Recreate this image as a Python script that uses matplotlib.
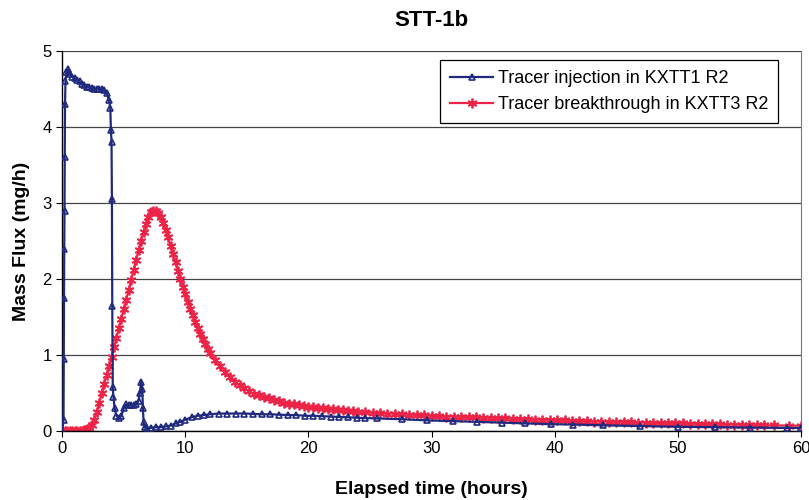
#! /usr/bin/env python3

import matplotlib.pyplot as plt
import matplotlib as mpl

# breakthrough curve in KXTT3 R2 (hours, mg/h)
red_t = [0.0, 0.2, 0.4, 0.6, 0.8, 1.0, 1.2, 1.4, 1.6, 1.8,
         2.0, 2.2, 2.4, 2.6, 2.8, 3.0, 3.2, 3.4, 3.6, 3.8,
         4.0, 4.2, 4.4, 4.6, 4.8, 5.0, 5.2, 5.4, 5.6, 5.8,
         6.0, 6.2, 6.4, 6.6, 6.8, 7.0, 7.2, 7.4, 7.6, 7.8,
         8.0, 8.2, 8.4, 8.6, 8.8, 9.0, 9.2, 9.4, 9.6, 9.8,
         10.0, 10.2, 10.4, 10.6, 10.8, 11.0, 11.2, 11.4, 11.6, 11.8,
         12.0, 12.4, 12.8, 13.2, 13.6, 14.0, 14.4, 14.8, 15.2, 15.6,
         16.0, 16.4, 16.8, 17.2, 17.6, 18.0, 18.4, 18.8, 19.2, 19.6,
         20.0, 20.4, 20.8, 21.2, 21.6, 22.0, 22.4, 22.8, 23.2, 23.6,
         24.0, 24.6, 25.2, 25.8, 26.4, 27.0, 27.6, 28.2, 28.8, 29.4,
         30.0, 30.6, 31.2, 31.8, 32.4, 33.0, 33.6, 34.2, 34.8, 35.4,
         36.0, 36.6, 37.2, 37.8, 38.4, 39.0, 39.6, 40.2, 40.8, 41.4,
         42.0, 42.6, 43.2, 43.8, 44.4, 45.0, 45.6, 46.2, 46.8, 47.4,
         48.0, 48.6, 49.2, 49.8, 50.4, 51.0, 51.6, 52.2, 52.8, 53.4,
         54.0, 54.6, 55.2, 55.8, 56.4, 57.0, 57.8, 59.0, 60.0]
red_v = [0.0, 0.0, 0.0, 0.0, 0.0, 0.0, 0.0, 0.0, 0.0, 0.01,
         0.02, 0.04, 0.08, 0.15, 0.25, 0.37, 0.5, 0.62, 0.74, 0.86,
         0.98, 1.1, 1.22, 1.35, 1.48, 1.6, 1.73, 1.86, 1.99, 2.12,
         2.25, 2.38, 2.5, 2.62, 2.73, 2.82, 2.88, 2.9, 2.9, 2.87,
         2.82, 2.74, 2.65, 2.55, 2.44, 2.33, 2.22, 2.11, 2.0, 1.9,
         1.8, 1.7, 1.61, 1.52, 1.44, 1.36, 1.28, 1.21, 1.14, 1.08,
         1.02, 0.93, 0.85, 0.77, 0.71, 0.65, 0.6, 0.56, 0.52, 0.49,
         0.47, 0.45, 0.43, 0.41, 0.39, 0.375, 0.36, 0.35, 0.34, 0.33,
         0.32, 0.31, 0.305, 0.3, 0.29, 0.285, 0.28, 0.27, 0.265, 0.26,
         0.25, 0.245, 0.24, 0.235, 0.23, 0.225, 0.22, 0.215, 0.21, 0.205,
         0.2, 0.195, 0.19, 0.19, 0.185, 0.18, 0.18, 0.175, 0.17, 0.17,
         0.165, 0.16, 0.16, 0.155, 0.15, 0.15, 0.145, 0.14, 0.14, 0.135,
         0.13, 0.13, 0.125, 0.125, 0.12, 0.12, 0.115, 0.115, 0.11, 0.11,
         0.105, 0.105, 0.1, 0.1, 0.1, 0.095, 0.095, 0.09, 0.09, 0.09,
         0.085, 0.085, 0.08, 0.08, 0.08, 0.075, 0.075, 0.07, 0.07]

# injection in KXTT1 R2 (hours, mg/h)
blue_t = [0.0, 0.1, 0.12, 0.14, 0.16, 0.18, 0.2, 0.22, 0.26, 0.34,
          0.45, 0.55, 0.65, 0.8, 1.0, 1.2, 1.4, 1.6, 1.8, 2.0,
          2.2, 2.4, 2.6, 2.8, 3.0, 3.2, 3.4, 3.6, 3.8, 3.9,
          3.95, 4.0, 4.03, 4.06, 4.1, 4.15, 4.25, 4.4, 4.6, 4.8,
          5.0, 5.2, 5.4, 5.6, 5.8, 6.0, 6.2, 6.3, 6.4, 6.5,
          6.55, 6.6, 6.7, 6.9, 7.2, 7.6, 8.0, 8.4, 8.8, 9.2,
          9.6, 10.0, 10.5, 11.0, 11.5, 12.0, 12.7, 13.4, 14.1, 14.8,
          15.5, 16.2, 16.9, 17.6, 18.3, 19.0, 19.7, 20.4, 21.1, 21.8,
          22.5, 23.2, 23.9, 24.6, 25.6, 27.6, 29.6, 31.7, 33.7, 35.7,
          37.6, 39.7, 41.5, 43.9, 46.9, 50.0, 53.0, 55.9, 58.9, 60.0]
blue_v = [0.0, 0.14, 0.95, 1.75, 2.4, 2.9, 3.6, 4.3, 4.6, 4.72,
          4.76, 4.72, 4.7, 4.66, 4.64, 4.62, 4.6, 4.57, 4.55, 4.53,
          4.52, 4.51, 4.5, 4.5, 4.5, 4.5, 4.49, 4.45, 4.35, 4.25,
          3.96, 3.8, 3.05, 1.64, 0.58, 0.45, 0.3, 0.2, 0.17, 0.2,
          0.3, 0.35, 0.34, 0.34, 0.34, 0.35, 0.4, 0.5, 0.65, 0.55,
          0.3, 0.12, 0.05, 0.04, 0.04, 0.05, 0.05, 0.06, 0.07, 0.1,
          0.12, 0.15, 0.18, 0.2, 0.21, 0.22, 0.23, 0.23, 0.23, 0.23,
          0.225, 0.22, 0.22, 0.215, 0.21, 0.21, 0.2, 0.2, 0.195, 0.19,
          0.185, 0.18, 0.175, 0.17, 0.165, 0.155, 0.14, 0.13, 0.12, 0.11,
          0.1, 0.09, 0.085, 0.075, 0.065, 0.055, 0.05, 0.045, 0.04, 0.04]

labels = ['Tracer injection in KXTT1 R2', 'Tracer breakthrough in KXTT3 R2']
xticks = [0, 10, 20, 30, 40, 50, 60]
yticks = [0, 1, 2, 3, 4, 5]

plt.rc('font', **{'family': 'sans-serif', 'sans-serif': ['Liberation Sans', 'DejaVu Sans']})
mpl.rcParams['axes.linewidth'] = 1.0

fig = plt.figure(figsize=(8.09, 5.0), dpi=100)
ax = fig.add_axes([0.077, 0.138, 0.913, 0.76])

ax.plot(blue_t, blue_v, color='#1f2a7e', linewidth=1.6, marker='^',
        markersize=5, markerfacecolor='none', markeredgewidth=1.2,
        label=labels[0], zorder=3)
ax.plot(red_t, red_v, color='#ec2448', linewidth=1.6, marker=(6, 2, 0),
        markersize=7, markeredgewidth=1.3, label=labels[1], zorder=2)

ax.set_xlim(0, 60)
ax.set_ylim(0, 5)
ax.set_xticks(xticks)
ax.set_yticks(yticks)
ax.tick_params(axis='both', which='major', direction='out', length=4,
               labelsize=12, width=0.8)

# gridlines at every y tick
ax.yaxis.grid(True, color='#444444', linewidth=0.9)
ax.spines['top'].set_visible(False)
ax.spines['right'].set_color('#777777')
ax.spines['right'].set_linewidth(0.8)

ax.set_xlabel('Elapsed time (hours)', fontsize=14, fontweight='bold', labelpad=18)
ax.set_ylabel('Mass Flux (mg/h)', fontsize=14, fontweight='bold', labelpad=9)
ax.set_title('STT-1b', fontsize=16, fontweight='bold', pad=18)

leg = ax.legend(loc='upper right', bbox_to_anchor=(0.969, 0.976), fontsize=13,
                fancybox=False, edgecolor='black', framealpha=1,
                borderaxespad=0, handlelength=2.4, handletextpad=0.25,
                borderpad=0.55, labelspacing=0.5)
leg.get_frame().set_linewidth(0.9)

plt.savefig('out.png', dpi=100)
